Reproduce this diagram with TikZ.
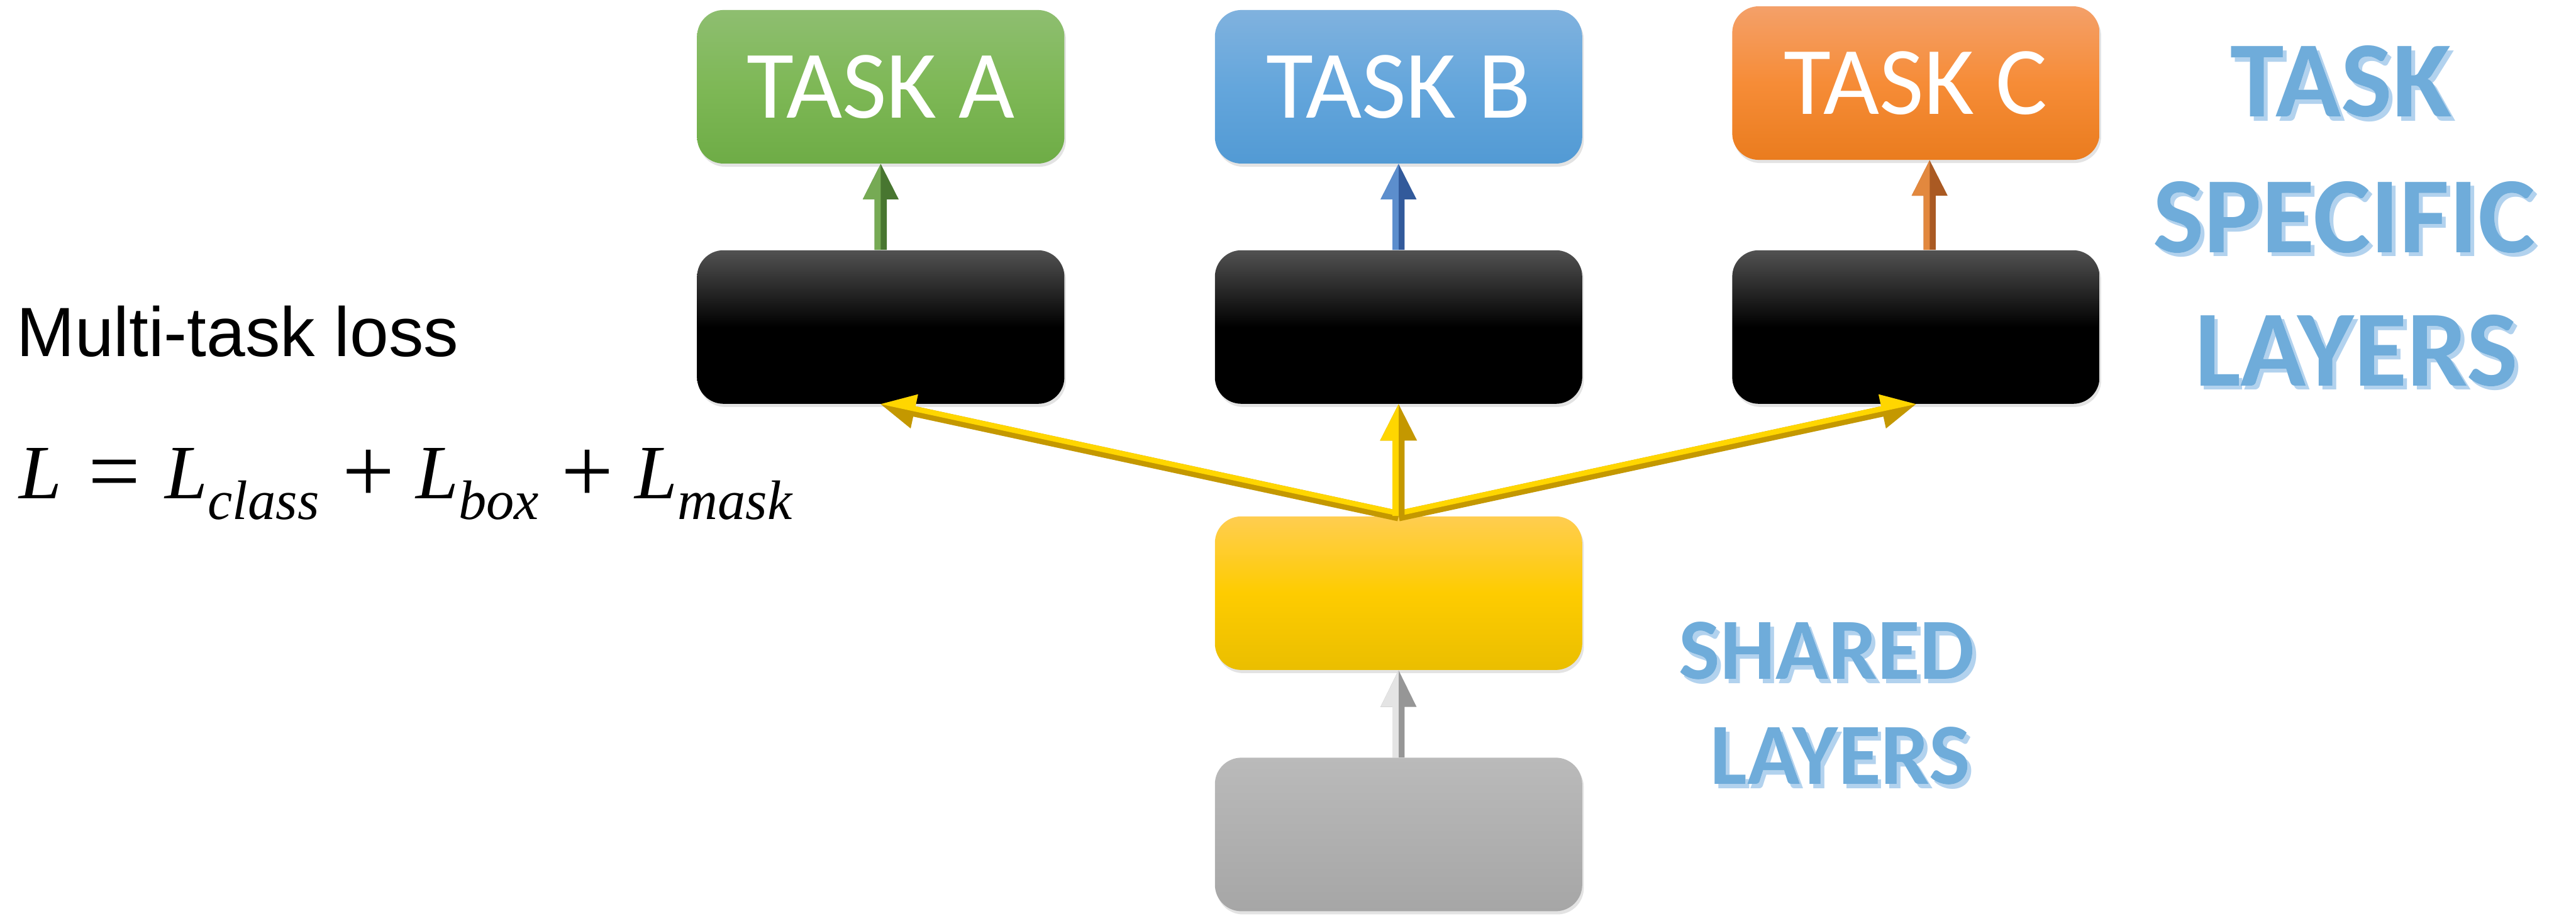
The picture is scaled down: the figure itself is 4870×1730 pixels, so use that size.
\documentclass[tikz,border=0pt]{standalone}
\usepackage{fontspec}
\usepackage{pdfrender}
\usetikzlibrary{arrows.meta,calc,shadows}
\newfontfamily\carlito{Carlito}
\newfontfamily\helv{Liberation Sans}
\newfontfamily\tms{Liberation Serif}

\definecolor{gTop}{RGB}{142,190,112}\definecolor{gMid}{RGB}{126,184,86}\definecolor{gBot}{RGB}{110,172,70}
\definecolor{bTop}{RGB}{128,178,222}\definecolor{bMid}{RGB}{100,166,220}\definecolor{bBot}{RGB}{82,154,212}
\definecolor{oTop}{RGB}{244,160,105}\definecolor{oMid}{RGB}{246,140,55}\definecolor{oBot}{RGB}{234,124,30}
\definecolor{kTop}{RGB}{82,82,82}
\definecolor{yTop}{RGB}{255,205,80}\definecolor{yMid}{RGB}{254,204,0}\definecolor{yBot}{RGB}{234,190,0}
\definecolor{sTop}{RGB}{186,186,186}\definecolor{sBot}{RGB}{166,166,166}
\definecolor{titleblue}{RGB}{111,172,218}
\definecolor{titleshadow}{RGB}{178,210,238}
\definecolor{grnL}{RGB}{118,170,84}\definecolor{grnD}{RGB}{72,118,48}
\definecolor{bluL}{RGB}{92,142,205}\definecolor{bluD}{RGB}{50,90,155}
\definecolor{orgL}{RGB}{226,136,62}\definecolor{orgD}{RGB}{170,90,35}
\definecolor{yelL}{RGB}{255,214,0}\definecolor{yelD}{RGB}{196,152,0}
\definecolor{gryL}{RGB}{228,228,228}\definecolor{gryD}{RGB}{150,150,150}

\tikzset{
  layer/.style={rounded corners=5mm, minimum width=69.4mm, minimum height=29mm,
    inner sep=0pt, drop shadow={opacity=0.22, shadow xshift=0.3mm, shadow yshift=-0.6mm}},
  tasktext/.style={text=white, font=\carlito\fontsize{52}{52}\selectfont},
  bigtitle/.style={font=\carlito\bfseries\fontsize{58.3}{58.3}\selectfont, inner sep=0pt, anchor=base},
  midtitle/.style={font=\carlito\bfseries\fontsize{46.9}{46.9}\selectfont, inner sep=0pt, anchor=base},
}

% block arrow with a light and a dark half:
% #1 start, #2 tip, #3 half shaft width, #4 half head width, #5 head length,
% #6 light colour, #7 dark colour, #8 side of the light half (90 left, -90 right)
\newcommand\bevelarrow[8]{%
  \coordinate (ba-base) at ($(#2)!#5!(#1)$);
  \fill[#7] ($(#1)!#3!#8:(#2)$) -- ($(ba-base)!#3!#8:(#2)$) -- ($(ba-base)!#4!#8:(#2)$)
    -- (#2) -- ($(ba-base)!-#4!#8:(#2)$) -- ($(ba-base)!-#3!#8:(#2)$) -- ($(#1)!-#3!#8:(#2)$) -- cycle;
  \fill[#6] ($(#1)!#3!#8:(#2)$) -- ($(ba-base)!#3!#8:(#2)$) -- ($(ba-base)!#4!#8:(#2)$)
    -- (#2) -- (ba-base) -- (#1) -- cycle;
}

% title word: offset shadow, white rim (stroked glyphs), blue face
% #1 name, #2 position, #3 style, #4 text
\newcommand\titleword[4]{%
  \node[#3, text=titleshadow] (#1-shadow) at ([xshift=0.7mm,yshift=-0.8mm]#2) {#4};
  \node[#3, text=white] (#1-rim) at (#2)
    {\textpdfrender{TextRenderingMode=FillStroke, LineWidth=0.56mm, StrokeColor=white, FillColor=white}{#4}};
  \node[#3, text=titleblue] (#1) at (#2) {#4};
}

\begin{document}
\begin{tikzpicture}[x=0.01cm, y=-0.01cm]
\useasboundingbox[fill=white] (0,0) rectangle (4870,1730);

% task heads
\node[layer, top color=gTop, bottom color=gBot, middle color=gMid, tasktext] (taskA) at (1665,164) {TASK A};
\node[layer, top color=bTop, bottom color=bBot, middle color=bMid, tasktext] (taskB) at (2644,164) {TASK B};
\node[layer, top color=oTop, bottom color=oBot, middle color=oMid, tasktext] (taskC) at (3622,157) {TASK C};

% task specific layers
\node[layer, top color=kTop, bottom color=black, middle color=black] (blackA) at (1665,618) {};
\node[layer, top color=kTop, bottom color=black, middle color=black] (blackB) at (2644,618) {};
\node[layer, top color=kTop, bottom color=black, middle color=black] (blackC) at (3622,618) {};

% shared layers
\node[layer, top color=yTop, bottom color=yBot, middle color=yMid] (shared) at (2644,1121) {};
\node[layer, top color=sTop, bottom color=sBot] (input) at (2644,1577) {};

% connectors
\bevelarrow{blackA.north}{taskA.south}{1.15mm}{3.4mm}{6.7mm}{grnL}{grnD}{90}
\bevelarrow{blackB.north}{taskB.south}{1.15mm}{3.4mm}{6.7mm}{bluL}{bluD}{90}
\coordinate (cFrom) at ([xshift=2.6mm]blackC.north);
\coordinate (cTo) at ([xshift=2.6mm]taskC.south);
\bevelarrow{cFrom}{cTo}{1.15mm}{3.4mm}{6.7mm}{orgL}{orgD}{90}

\bevelarrow{shared.north}{blackA.south}{1.0mm}{3.3mm}{6.5mm}{yelL}{yelD}{-90}
\bevelarrow{shared.north}{blackC.south}{1.0mm}{3.3mm}{6.5mm}{yelL}{yelD}{90}
\bevelarrow{shared.north}{blackB.south}{1.15mm}{3.5mm}{6.9mm}{yelL}{yelD}{90}

\bevelarrow{input.north}{shared.south}{1.15mm}{3.4mm}{6.9mm}{gryL}{gryD}{90}

% titles
\titleword{tsl1}{4426,221}{bigtitle}{TASK}
\titleword{tsl2}{4432,477}{bigtitle}{SPECIFIC}
\titleword{tsl3}{4455,729}{bigtitle}{LAYERS}
\titleword{sh1}{3454,1284}{midtitle}{SHARED}
\titleword{sh2}{3479,1482}{midtitle}{LAYERS}

% loss
\node[anchor=base west, inner sep=0pt, font=\helv\fontsize{37.5}{37.5}\selectfont] (losslabel) at (31,673) {Multi-task loss};
\node[anchor=base west, inner sep=0pt, font=\tms\fontsize{41.3}{41.3}\selectfont] (lossformula) at (35,942)
  {\itshape L\upshape\hspace{5mm}\raisebox{-0.7mm}{\fontsize{49.8}{49.8}\selectfont =}\hspace{4.7mm}%
   \itshape L\raisebox{-4mm}{\fontsize{29.9}{29.9}\selectfont class}\upshape\hspace{4.4mm}%
   \raisebox{-0.7mm}{\fontsize{49.8}{49.8}\selectfont +}\hspace{4mm}%
   \itshape L\raisebox{-4mm}{\fontsize{29.9}{29.9}\selectfont box}\upshape\hspace{4.2mm}%
   \raisebox{-0.7mm}{\fontsize{49.8}{49.8}\selectfont +}\hspace{4.1mm}%
   \itshape L\raisebox{-4mm}{\fontsize{29.9}{29.9}\selectfont mask}};
\end{tikzpicture}
\end{document}
